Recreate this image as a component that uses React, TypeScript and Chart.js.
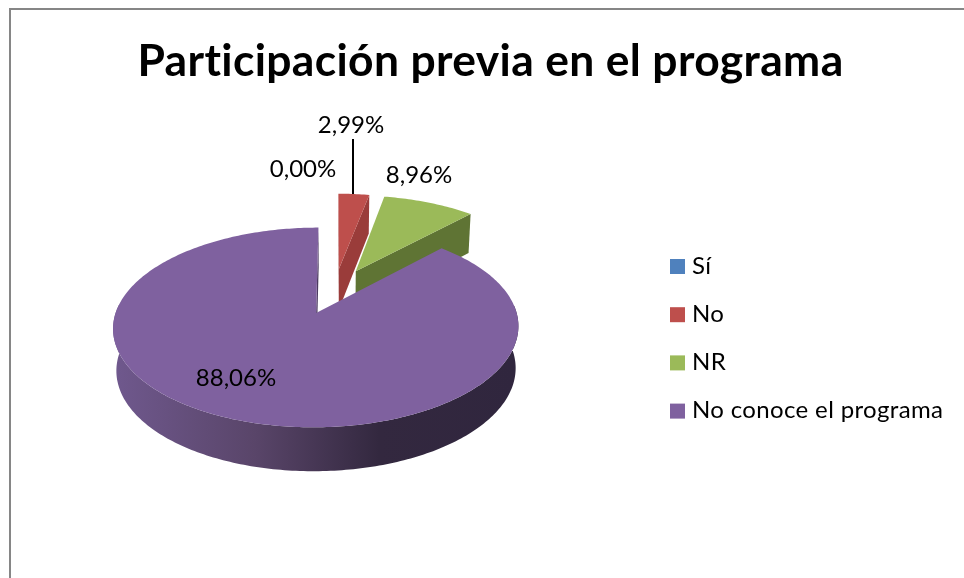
import React, { useEffect, useRef } from "react";
import { Chart, registerables } from "chart.js";

Chart.register(...registerables);

const titleText = "Participación previa en el programa";
const categories = ["Sí", "No", "NR", "No conoce el programa"];
const shares = [0, 2.99, 8.96, 88.06];
const topColors = ["#4F81BD", "#BE4F4C", "#9BBA59", "#7F619F"];
const cutColors = ["#3A6090", "#9A3C3A", "#5F7434", "#4B3A60"];
const FONT = "Lato, 'Open Sans', sans-serif";

// Tilted-disc projection of the library's pie geometry (normalised to unit radius).
const VIEW = { x0: 334.5, y0: 291, ax: 194, by: 91.5, k: 0.14, explode: 0.25 };
const project = (u: number, v: number) => {
  const w = 1 + VIEW.k * v;
  return { x: VIEW.x0 + (VIEW.ax * u) / w, y: VIEW.y0 - (VIEW.by * v) / w };
};
const lower = (u: number, v: number) => {
  const p = project(u, v);
  return { x: VIEW.x0 + (p.x - VIEW.x0) * 0.985, y: p.y + 41.2 - 2.2 * v };
};

const fmt = (v: number) => v.toFixed(2).replace(".", ",") + "%";
const labelSpots = [
  { x: 303, y: 169 },
  { x: 351, y: 125 },
  { x: 419, y: 175 },
  { x: 236, y: 378 },
];

const poly = (ctx: CanvasRenderingContext2D, pts: { x: number; y: number }[], fill: any) => {
  ctx.beginPath();
  pts.forEach((p, i) => (i ? ctx.lineTo(p.x, p.y) : ctx.moveTo(p.x, p.y)));
  ctx.closePath();
  ctx.fillStyle = fill;
  ctx.fill();
};
const area = (pts: { x: number; y: number }[]) =>
  pts.reduce((s, p, i) => {
    const q = pts[(i + 1) % pts.length];
    return s + p.x * q.y - q.x * p.y;
  }, 0);

const pie3d = {
  id: "pie3d",
  afterLayout(chart: any) {
    const l = chart.legend;
    l.left = 646;
    l.right = 964;
    l.top = 230;
    l.bottom = 578;
  },
  beforeDraw(chart: any) {
    (chart.ctx as any).letterSpacing = "0.35px";
  },
  beforeDatasetDraw(chart: any, args: any) {
    const ctx: CanvasRenderingContext2D = chart.ctx;
    const arcs = chart.getDatasetMeta(args.index).data;
    const wallGrad = ctx.createLinearGradient(116, 0, 515, 0);
    wallGrad.addColorStop(0, "#6F588D");
    wallGrad.addColorStop(0.35, "#594569");
    wallGrad.addColorStop(0.66, "#33283F");
    wallGrad.addColorStop(1, "#30263E");
    ctx.save();
    arcs.forEach((el: any, i: number) => {
      const start = el.startAngle;
      const end = el.endAngle;
      if (end - start <= 0) return;
      const mid = (start + end) / 2;
      const cu = Math.cos(mid) * VIEW.explode;
      const cv = -Math.sin(mid) * VIEW.explode;
      const n = Math.max(8, Math.ceil((end - start) * 60));
      const rim: { u: number; v: number; front: boolean }[] = [];
      for (let s = 0; s <= n; s++) {
        const a = start + ((end - start) * s) / n;
        rim.push({ u: cu + Math.cos(a), v: cv - Math.sin(a), front: Math.sin(a) > -0.1 });
      }
      const topRim = rim.map((p) => project(p.u, p.v));
      const lowRim = rim.map((p) => lower(p.u, p.v));
      const frontRim = rim.filter((p) => p.front);
      if (frontRim.length > 1) {
        poly(
          ctx,
          [
            ...frontRim.map((p) => project(p.u, p.v)),
            ...frontRim.map((p) => lower(p.u, p.v)).reverse(),
          ],
          i === 3 ? wallGrad : cutColors[i]
        );
      }
      const a0 = project(cu, cv);
      const a1 = lower(cu, cv);
      const startFace = [a0, topRim[0], lowRim[0], a1];
      const endFace = [a0, a1, lowRim[n], topRim[n]];
      if (area(startFace) < 0) poly(ctx, startFace, cutColors[i]);
      if (area(endFace) < 0) poly(ctx, endFace, cutColors[i]);
      poly(ctx, [a0, ...topRim], topColors[i]);
    });
    ctx.restore();
    return false;
  },
  afterDatasetsDraw(chart: any) {
    const ctx: CanvasRenderingContext2D = chart.ctx;
    const el = chart.getDatasetMeta(0).data[1];
    const mid = (el.startAngle + el.endAngle) / 2;
    const tip = project(
      Math.cos(mid) * (1 + VIEW.explode),
      -Math.sin(mid) * (1 + VIEW.explode)
    );
    ctx.save();
    ctx.strokeStyle = "#000";
    ctx.lineWidth = 2;
    ctx.beginPath();
    ctx.moveTo(353, 139);
    ctx.lineTo(353, tip.y);
    ctx.stroke();
    (ctx as any).letterSpacing = "0px";
    ctx.font = `24px ${FONT}`;
    ctx.fillStyle = "#000";
    ctx.textAlign = "center";
    ctx.textBaseline = "middle";
    shares.forEach((v, i) => ctx.fillText(fmt(v), labelSpots[i].x, labelSpots[i].y));
    ctx.restore();
  },
  afterDraw(chart: any) {
    const ctx: CanvasRenderingContext2D = chart.ctx;
    ctx.save();
    // chart frame (only top and left are in the picture)
    ctx.strokeStyle = "#868686";
    ctx.lineWidth = 2;
    ctx.beginPath();
    ctx.moveTo(10, 578);
    ctx.lineTo(10, 9);
    ctx.lineTo(964, 9);
    ctx.stroke();
    // widen legend swatches to square
    chart.legend.legendItems.forEach((item: any, i: number) => {
      ctx.fillStyle = topColors[i];
      ctx.fillRect(670, 259 + i * 48.2, 15, 15);
    });
    ctx.restore();
  },
};

export default function App() {
  const ref = useRef<HTMLCanvasElement>(null);
  useEffect(() => {
    const chart = new Chart(ref.current as HTMLCanvasElement, {
      type: "pie",
      data: {
        labels: categories,
        datasets: [{ data: shares, backgroundColor: topColors, borderWidth: 0 }],
      },
      options: {
        animation: false,
        responsive: false,
        layout: { padding: { left: 17, right: 0 } },
        plugins: {
          tooltip: { enabled: false },
          title: {
            display: true,
            text: titleText,
            color: "#000",
            font: { family: FONT, size: 44.4, weight: "bold" },
            padding: { top: 35, bottom: 20 },
          },
          legend: {
            display: true,
            position: "right",
            align: "start",
            labels: {
              boxWidth: 10,
              boxHeight: 10,
              padding: 24,
              color: "#000",
              font: { family: FONT, size: 24, lineHeight: 1 },
            },
          },
        },
      } as any,
      plugins: [pie3d],
    });
    return () => chart.destroy();
  }, []);
  return (
    <div style={{ position: "fixed", left: 0, top: 0, width: 964, height: 578, background: "#fff" }}>
      <canvas ref={ref} width={964} height={578} style={{ display: "block" }} />
    </div>
  );
}
